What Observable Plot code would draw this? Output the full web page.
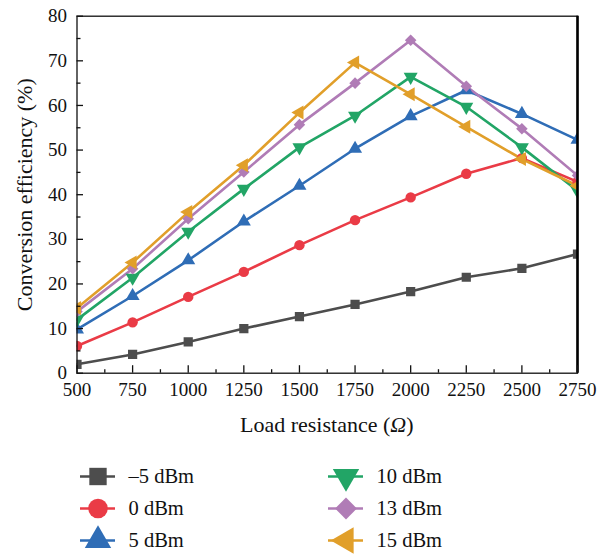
<!DOCTYPE html>
<html>
<head>
<meta charset="utf-8">
<script src="https://cdn.jsdelivr.net/npm/d3@7"></script>
<script src="https://cdn.jsdelivr.net/npm/@observablehq/plot@0.6"></script>
<style>
  html, body { margin: 0; padding: 0; background: #fff; }
  body { width: 612px; height: 554px; overflow: hidden; font-family: "Liberation Serif", "DejaVu Serif", serif; color: #111; }
  svg { display: block; }
  svg text { font-family: "Liberation Serif", "DejaVu Serif", serif; }
  #xlabel { margin-left: 76.5px; width: 500.5px; height: 35px; line-height: 35px; text-align: center; font-size: 22px; box-sizing: border-box; padding-top: 2px; }
</style>
</head>
<body>
<div id="chart"></div>
<div id="xlabel">Load resistance (<i>Ω</i>)</div>
<div id="legend"></div>
<script>
// ---- data ----
const resistance = [500, 750, 1000, 1250, 1500, 1750, 2000, 2250, 2500, 2750];
const series = ["\u20135 dBm", "0 dBm", "5 dBm", "10 dBm", "13 dBm", "15 dBm"];
const effM5  = [2.0, 4.2, 7.0, 10.0, 12.7, 15.4, 18.3, 21.5, 23.5, 26.7];
const eff0   = [6.1, 11.4, 17.1, 22.7, 28.7, 34.3, 39.4, 44.7, 48.2, 42.9];
const eff5   = [9.8, 17.3, 25.3, 34.0, 42.0, 50.3, 57.6, 63.4, 58.1, 52.3];
const eff10  = [12.0, 21.4, 31.7, 41.3, 50.6, 57.7, 66.4, 59.7, 50.6, 40.9];
const eff13  = [13.8, 23.4, 34.6, 45.1, 55.7, 65.0, 74.6, 64.3, 54.8, 44.3];
const eff15  = [14.6, 24.8, 36.1, 46.6, 58.4, 69.6, 62.5, 55.2, 48.0, 42.0];
const yTicks = [0, 10, 20, 30, 40, 50, 60, 70, 80];
const yMinor = [5, 15, 25, 35, 45, 55, 65, 75];
const xMinor = [625, 875, 1125, 1375, 1625, 1875, 2125, 2375, 2625];
const yLabel = "Conversion efficiency (%)";

// ---- styles ----
const colors = ["#4d4d4d", "#ea3b46", "#2f6db6", "#22a566", "#b07cb6", "#e19f2a"];
const symbols = ["square", "circle", "triangle", "triangle", "diamond2", "triangle"];
const rotations = [0, 0, 0, 180, 0, -90];
const serif = "'Liberation Serif', 'DejaVu Serif', serif";

const values = [effM5, eff0, eff5, eff10, eff13, eff15];
const rows = series.flatMap((s, i) => resistance.map((r, j) => ({series: s, idx: i, r, eff: values[i][j]})));

const W = 612, H = 405, mL = 76.5, mR = 35, mT = 15.7, mB = 32.3;
const frameW = W - mL - mR, frameH = H - mT - mB;

const colorScale = {domain: series, range: colors};
const symbolScale = {domain: series, range: symbols};

const chart = Plot.plot({
  width: W, height: H,
  marginLeft: mL, marginRight: mR, marginTop: mT, marginBottom: mB,
  style: {fontFamily: serif, fontSize: "19px", color: "#111", background: "#fff"},
  x: {domain: [500, 2750]},
  y: {domain: [0, 80]},
  color: colorScale,
  symbol: symbolScale,
  marks: [
    Plot.line(rows, {x: "r", y: "eff", z: "series", stroke: "series", strokeWidth: 2.6, clip: true}),
    Plot.dot(rows, {x: "r", y: "eff", fill: "series", symbol: "series", rotate: d => rotations[d.idx], r: 5.2, clip: true}),
    Plot.frame({stroke: "#111", strokeWidth: 1.3}),
    Plot.ruleX([2750], {stroke: "#000", strokeWidth: 2.6}),
    // inward ticks
    Plot.tickY(yTicks, {y: d => d, stroke: "#111", strokeWidth: 1.3, insetRight: frameW - 6.5}),
    Plot.tickY(yMinor, {y: d => d, stroke: "#111", strokeWidth: 1.3, insetRight: frameW - 4}),
    Plot.tickX(resistance, {x: d => d, stroke: "#111", strokeWidth: 1.3, insetTop: frameH - 7.5}),
    Plot.tickX(xMinor, {x: d => d, stroke: "#111", strokeWidth: 1.3, insetTop: frameH - 3.5}),
    Plot.axisY({ticks: yTicks, tickSize: 0, tickPadding: 10, label: null, fontFamily: serif}),
    Plot.axisX({ticks: resistance, tickSize: 0, tickPadding: 9, tickFormat: "d", label: null, fontFamily: serif}),
    Plot.text([yLabel], {frameAnchor: "left", textAnchor: "middle", rotate: -90, dx: -52.5, fontSize: 22, fontFamily: serif})
  ]
});
document.getElementById("chart").append(chart);

// ---- legend ----
const legendRows = series.map((s, i) => ({series: s, idx: i, col: Math.floor(i / 3), row: i % 3}));
const legend = Plot.plot({
  width: W, height: 114, margin: 0,
  style: {fontFamily: serif, fontSize: "20px", color: "#111", background: "#fff"},
  x: {type: "band", domain: [0, 1], range: [80, 363], paddingInner: 0.859, paddingOuter: 0, axis: null},
  y: {type: "point", domain: [0, 1, 2], range: [35, 100], padding: 0, axis: null},
  color: colorScale,
  symbol: symbolScale,
  marks: [
    Plot.tickY(legendRows, {x: "col", y: "row", stroke: "series", strokeWidth: 2.6}),
    Plot.dot(legendRows, {x: "col", y: "row", fill: "series", symbol: "series", rotate: d => rotations[d.idx], r: 9.8}),
    Plot.text(legendRows, {x: "col", y: "row", text: "series", textAnchor: "start", dx: 30.5, fontSize: 20.5, fontFamily: serif})
  ]
});
document.getElementById("legend").append(legend);
</script>
</body>
</html>
